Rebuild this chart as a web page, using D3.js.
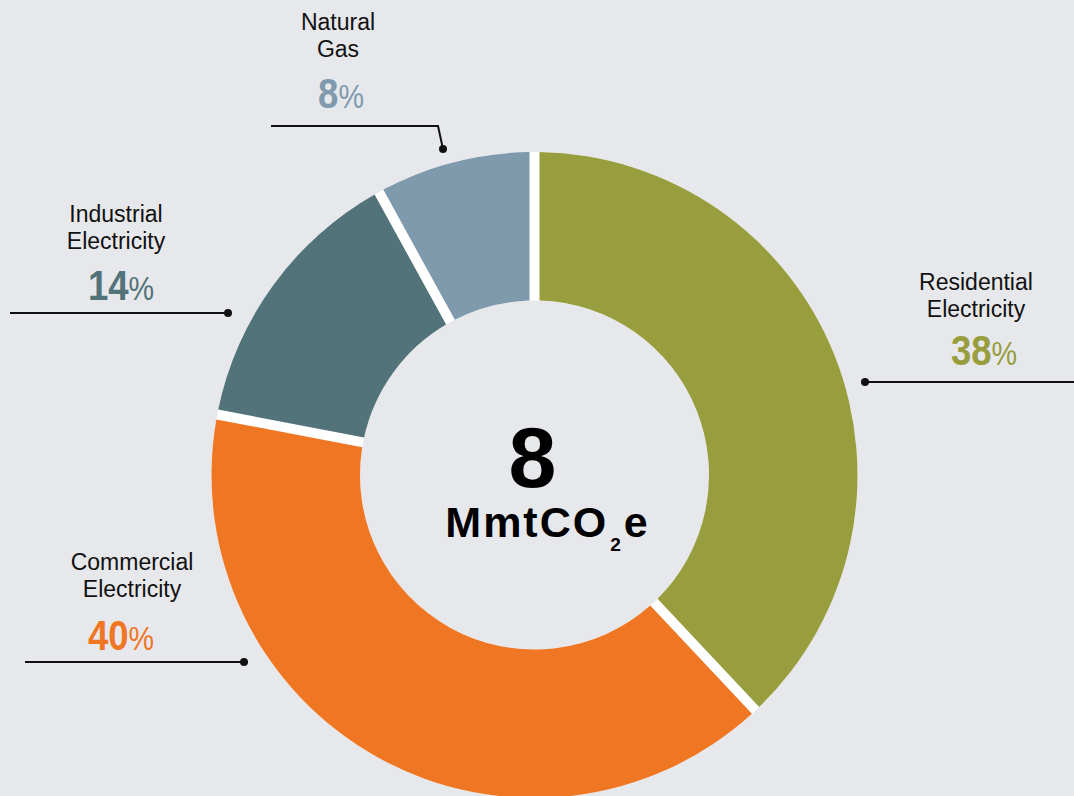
<!DOCTYPE html>
<html>
<head>
<meta charset="utf-8">
<script src="https://cdn.jsdelivr.net/npm/d3@7"></script>
<style>
  html, body { margin: 0; padding: 0; background: #e7e8eb; }
  svg { display: block; }
</style>
</head>
<body>
<div id="chart"></div>
<script>
// data
const categories = ["Residential Electricity", "Commercial Electricity", "Industrial Electricity", "Natural Gas"];
const values = [38, 40, 14, 8];
const totalValue = "8";
const totalUnit = "MmtCO";

// styles
const colors = ["#989d3e", "#ef7623", "#527379", "#7f9aad"];

// label layout: text lines, anchor x, baselines, leader line points
const labelLayout = [
  { lines: ["Residential", "Electricity"], tx: 976, ty: 290, nx: 984, ny: 365,
    leader: [[1074, 382], [865, 382]] },
  { lines: ["Commercial", "Electricity"], tx: 132, ty: 570, nx: 121, ny: 650,
    leader: [[25, 662], [244, 662]] },
  { lines: ["Industrial", "Electricity"], tx: 116, ty: 222, nx: 121, ny: 300,
    leader: [[10, 313], [228, 313]] },
  { lines: ["Natural", "Gas"], tx: 338, ty: 30, nx: 341, ny: 108,
    leader: [[271, 126], [438, 126], [443, 149]] }
];

const width = 1074, height = 796;
const cx = 534.5, cy = 475;
const outerR = 323, innerR = 174.5;
const gap = 10;

const svg = d3.select('#chart').append('svg')
  .attr('width', width)
  .attr('height', height);

svg.append('rect')
  .attr('width', width).attr('height', height)
  .attr('fill', '#e7e8eb');

const g = svg.append('g').attr('transform', `translate(${cx}, ${cy})`);

// white ring under the slices so the gaps show white
g.append('path')
  .attr('d', d3.arc().innerRadius(innerR).outerRadius(outerR)({ startAngle: 0, endAngle: 2 * Math.PI }))
  .attr('fill', '#ffffff');

const pie = d3.pie().sort(null).value(d => d);
const arc = d3.arc()
  .innerRadius(innerR)
  .outerRadius(outerR)
  .padRadius(outerR)
  .padAngle(gap / outerR);

g.selectAll('path.slice')
  .data(pie(values))
  .enter()
  .append('path')
  .attr('class', 'slice')
  .attr('d', arc)
  .attr('fill', (d, i) => colors[i]);

// center text
g.append('text')
  .attr('x', -2)
  .attr('y', 12)
  .attr('text-anchor', 'middle')
  .style('font-family', '"Liberation Sans", Arial, sans-serif')
  .style('font-weight', 700)
  .style('font-size', '86px')
  .attr('fill', '#000')
  .text(totalValue);

const unit = g.append('text')
  .attr('x', 13)
  .attr('y', 62)
  .attr('text-anchor', 'middle')
  .style('font-family', '"Liberation Sans", Arial, sans-serif')
  .style('font-weight', 700)
  .style('font-size', '43px')
  .style('letter-spacing', '2px')
  .attr('fill', '#000');
unit.append('tspan').text(totalUnit);
unit.append('tspan').attr('dy', 14).attr('dx', 2).style('font-size', '19px').style('letter-spacing', '0px').text('2');
unit.append('tspan').attr('dy', -14).attr('dx', 3).text('e');

// labels and leaders
const labels = svg.selectAll('g.label')
  .data(labelLayout)
  .enter()
  .append('g')
  .attr('class', 'label');

labels.each(function(d, i) {
  const lg = d3.select(this);
  d.lines.forEach((line, j) => {
    lg.append('text')
      .attr('x', d.tx)
      .attr('y', d.ty + j * 27)
      .attr('text-anchor', 'middle')
      .style('font-family', '"Liberation Sans", Arial, sans-serif')
      .style('font-size', '23px')
      .attr('fill', '#111')
      .text(line);
  });

  // condensed look: squeeze a normal bold face horizontally
  const num = lg.append('text')
    .attr('transform', `translate(${d.nx}, ${d.ny}) scale(0.87, 1)`)
    .attr('text-anchor', 'middle')
    .style('font-family', '"Liberation Sans", Arial, sans-serif')
    .attr('fill', colors[i]);
  num.append('tspan')
    .style('font-weight', 700)
    .style('font-size', '42px')
    .text(values[i]);
  num.append('tspan')
    .style('font-weight', 400)
    .style('font-size', '33px')
    .text('%');

  lg.append('path')
    .attr('d', d3.line()(d.leader))
    .attr('fill', 'none')
    .attr('stroke', '#111')
    .attr('stroke-width', 2);

  const dot = i === 0 ? d.leader[1] : d.leader[d.leader.length - 1];
  lg.append('circle')
    .attr('cx', dot[0])
    .attr('cy', dot[1])
    .attr('r', 4)
    .attr('fill', '#111');
});
</script>
</body>
</html>
